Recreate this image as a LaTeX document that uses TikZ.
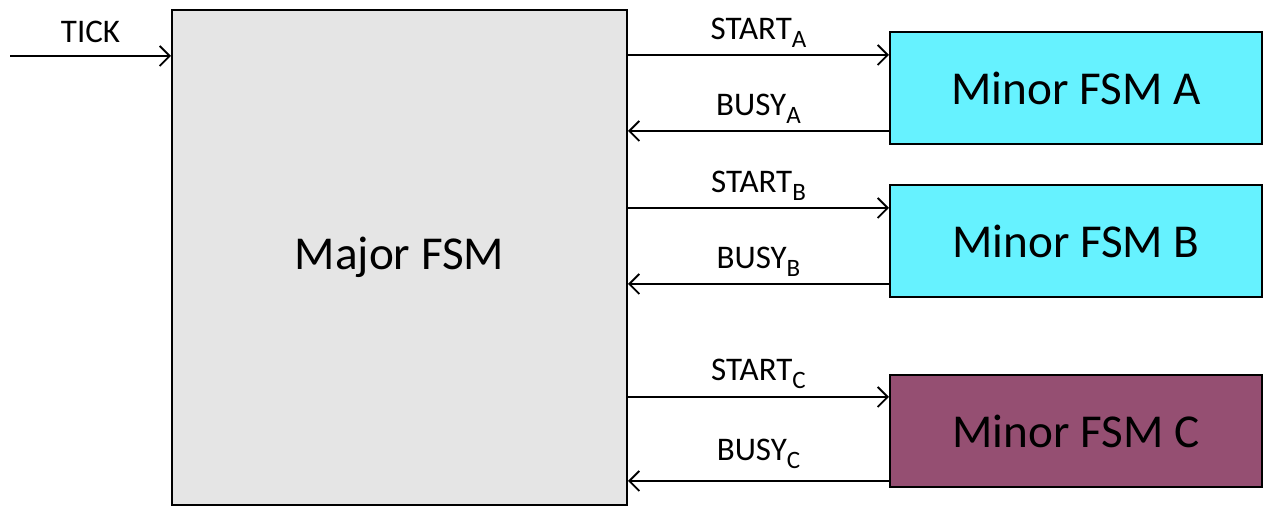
\documentclass[tikz,border=0pt]{standalone}
\usepackage{fontspec}
\setmainfont{Carlito}
\usetikzlibrary{arrows.meta}
\definecolor{majorgray}{HTML}{E5E5E5}
\definecolor{minorcyan}{HTML}{66F2FF}
\definecolor{minorplum}{HTML}{954F72}
\newcommand{\sigsub}[1]{\raisebox{-4pt}{\fontsize{12.5}{14}\selectfont #1}}
\tikzstyle{major} = [draw, line width=1pt, fill=majorgray, rectangle, minimum width=227.5pt, minimum height=247.5pt, font=\fontsize{23.6}{28}\selectfont]
\tikzstyle{minor} = [draw, line width=1pt, rectangle, minimum width=186pt, minimum height=56pt, font=\fontsize{23.6}{28}\selectfont]
\tikzstyle{sig} = [font=\fontsize{16.5}{19}\selectfont, above, inner sep=3.5pt]

\begin{document}
\begin{tikzpicture}[->,>={Straight Barb[length=5pt,width=10pt]},line width=0.9pt,x=1pt,y=1pt]
    \useasboundingbox (0,0) rectangle (633,-253);

    \node [major, name = maj] at (199.75,-128.75) {Major FSM};

    \node [minor, fill=minorcyan, name = fsma] at (538,-44) {Minor FSM A};
    \node [minor, fill=minorcyan, name = fsmb] at (538,-120.5) {Minor FSM B};
    \node [minor, fill=minorplum, name = fsmc] at (538,-215.5) {Minor FSM C};

    \coordinate (tick) at (5,-28);

    \draw [->] (tick) -- node[sig, inner sep=6pt] {TICK} (tick -| maj.west);

    \draw [->] ([yshift=-12pt]fsma.north west -| maj.east) -- node[sig] {START\sigsub{A}} ([yshift=-12pt]fsma.north west);
    \draw [->] ([yshift=7pt]fsma.south west) -- node[sig] {BUSY\sigsub{A}} ([yshift=7pt]fsma.south west -| maj.east);

    \draw [->] ([yshift=-12pt]fsmb.north west -| maj.east) -- node[sig] {START\sigsub{B}} ([yshift=-12pt]fsmb.north west);
    \draw [->] ([yshift=7pt]fsmb.south west) -- node[sig] {BUSY\sigsub{B}} ([yshift=7pt]fsmb.south west -| maj.east);

    \draw [->] ([yshift=-11.5pt]fsmc.north west -| maj.east) -- node[sig] {START\sigsub{C}} ([yshift=-11.5pt]fsmc.north west);
    \draw [->] ([yshift=3.5pt]fsmc.south west) -- node[sig, inner sep=5.5pt] {BUSY\sigsub{C}} ([yshift=3.5pt]fsmc.south west -| maj.east);

\end{tikzpicture}
\end{document}
